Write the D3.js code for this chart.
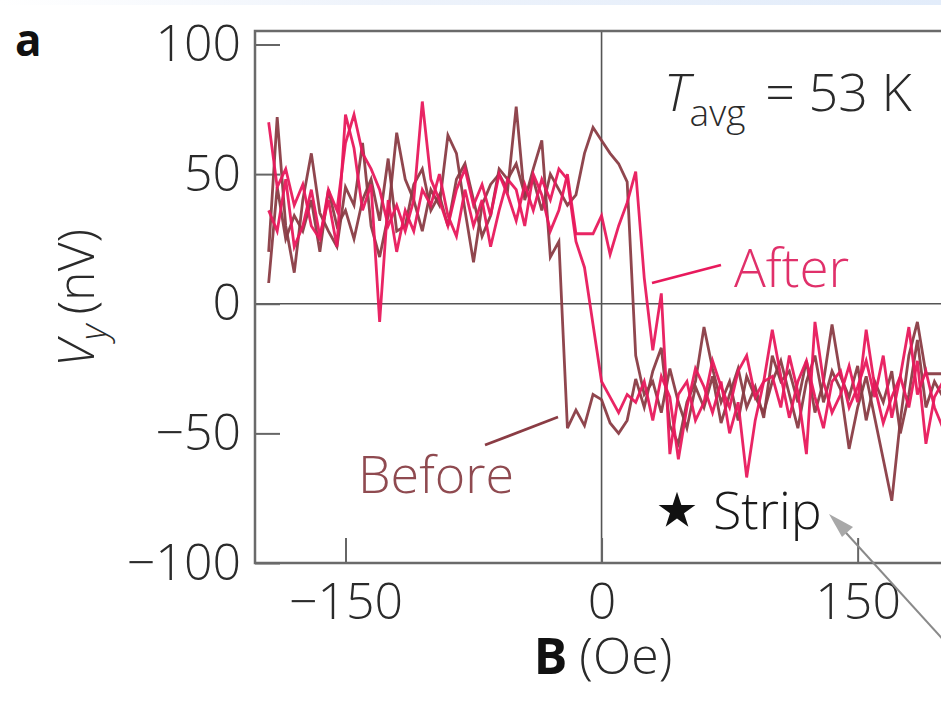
<!DOCTYPE html>
<html>
<head>
<meta charset="utf-8">
<script src="https://cdn.jsdelivr.net/npm/d3@7"></script>
<style>
	body { margin: 0; background: #fff; }
	svg { display: block; font-family: "Open Sans", "Noto Sans", sans-serif; font-weight: 300; }
</style>
</head>
<body>
<script>
// Field sweep (Oe) shared by all four traces
var fieldB = [-195, -190, -185, -180, -175, -170, -165, -160, -155, -150,
	-145, -140, -135, -130, -125, -120, -115, -110, -105, -100,
	-95, -90, -85, -80, -75, -70, -65, -60, -55, -50,
	-45, -40, -35, -30, -25, -20, -15, -10, -5, 0,
	5, 10, 15, 20, 25, 30, 35, 40, 45, 50,
	55, 60, 65, 70, 75, 80, 85, 90, 95, 100,
	105, 110, 115, 120, 125, 130, 135, 140, 145, 150,
	155, 160, 165, 170, 175, 180, 185, 190, 195, 200];

// V_y (nV), "Before" traces
var before1 = [20, 72, 30, 12, 40, 58, 35, 28, 22, 45,
	38, 62, 30, 18, 34, 66, 48, 40, 28, 44,
	38, 65, 58, 36, 16, 38, 46, 50, 44, 76,
	40, 52, 63, 18, 24, -48, -41, -47, -35, -37,
	-46, -50, -45, -29, -40, -26, -17, -47, -54, -38,
	-30, -9, -25, -38, -30, -45, -28, -36, -42, -30,
	-22, -35, -48, -30, -20, -38, -26, -33, -56, -40,
	-28, -44, -60, -76, -45, -20, -7, -27, -27, -27];

var before2 = [8, 45, 25, 34, 28, 40, 20, 44, 30, 36,
	25, 40, 48, 32, 56, 28, 30, 46, 52, 36,
	42, 30, 48, 54, 40, 26, 34, 52, 48, 54,
	42, 48, 36, 50, 44, 38, 42, 58, 68, 63,
	58, 54, 47, -20, -35, -30, -42, -25, -38, -48,
	-32, -40, -28, -46, -35, -25, -40, -32, -44, -20,
	-30, -26, -38, -22, -42, -30, -8, -28, -36, -24,
	-45, -30, -38, -26, -50, -35, -14, -40, -30, -36];

// V_y (nV), "After" traces
var after1 = [70, 45, 52, 38, 46, 30, 25, 44, 36, 62,
	73, 58, 52, 44, 30, 38, 28, 40, 78, 48,
	40, 30, 44, 52, 38, 46, 34, 50, 42, 32,
	46, 36, 48, 40, 52, 48, 24, 14, -8, -30,
	-36, -42, -35, -38, -30, -45, -28, -36, -60, -40,
	-25, -32, -42, -30, -50, -38, -67, -45, -30, -28,
	-40, -20, -34, -58, -7, -30, -42, -35, -24, -38,
	-10, -32, -46, -36, -28, -40, -22, -54, -36, -30];

var after2 = [36, 28, 48, 22, 30, 44, 26, 40, 22, 73,
	60, 36, 46, -7, 40, 20, 36, 28, 44, 38,
	50, 34, 26, 44, 30, 40, 22, 36, 48, 44,
	30, 50, 42, 28, 36, 50, 27, 27, 27, 34,
	19, 30, 39, 51, 10, -18, 4, -58, -35, -30,
	-45, -38, -22, -32, -40, -26, -20, -36, -30, -10,
	-28, -44, -30, -22, -36, -48, -30, -26, -40, -32,
	-22, -36, -20, -44, -28, -9, -35, -26, -40, -48];

var xTicks = [-150, 0, 150];
var yTicks = [-100, -50, 0, 50, 100];

var brown = "#8a3c44",
	pink = "#e8195c";

var width = 941,
	height = 702;

// plot box (right side runs off the page)
var plotLeft = 255, plotRight = 943, plotTop = 31, plotBottom = 563;

var svg = d3.select("body")
	.append("svg")
	.attr("width", width)
	.attr("height", height);

// faint blue band along the top edge of the scan
var grad = svg.append("defs").append("linearGradient")
	.attr("id", "band");
grad.append("stop").attr("offset", "0%").attr("stop-color", "#ffffff");
grad.append("stop").attr("offset", "40%").attr("stop-color", "#eef3fb");
grad.append("stop").attr("offset", "100%").attr("stop-color", "#e2ecfa");
svg.append("rect")
	.attr("x", 0).attr("y", 0)
	.attr("width", width).attr("height", 5)
	.attr("fill", "url(#band)");

var x = d3.scaleLinear().domain([-203, 200]).range([plotLeft, plotRight]);
var y = d3.scaleLinear().domain([-100, 105.2]).range([plotBottom, plotTop]);

svg.append("clipPath").attr("id", "plot")
	.append("rect")
	.attr("x", plotLeft).attr("y", plotTop)
	.attr("width", plotRight - plotLeft).attr("height", plotBottom - plotTop);

// zero lines
svg.append("line")
	.attr("x1", x(0)).attr("x2", x(0))
	.attr("y1", plotTop).attr("y2", plotBottom)
	.attr("stroke", "#555").attr("stroke-width", 1.6);
svg.append("line")
	.attr("x1", plotLeft).attr("x2", width)
	.attr("y1", y(0)).attr("y2", y(0))
	.attr("stroke", "#555").attr("stroke-width", 1.6);

// axes, ticks pointing inwards
var yAxis = svg.append("g")
	.attr("transform", "translate(" + plotLeft + ",0)")
	.call(d3.axisLeft(y).tickValues(yTicks).tickSize(-25).tickPadding(14));
var xAxis = svg.append("g")
	.attr("transform", "translate(0," + plotBottom + ")")
	.call(d3.axisBottom(x).tickValues(xTicks).tickSize(-25).tickPadding(20));

[xAxis, yAxis].forEach(function(g) {
	g.select(".domain").remove();
	g.selectAll(".tick line").attr("stroke", "#666").attr("stroke-width", 2);
	g.selectAll(".tick text")
		.attr("fill", "#2a2a2a")
		.style("font-family", "'Open Sans', sans-serif")
		.style("font-weight", "300")
		.style("font-size", "50px");
});

// frame: left, bottom and top
svg.append("path")
	.attr("d", "M" + width + "," + plotTop + "H" + plotLeft + "V" + plotBottom + "H" + width)
	.attr("fill", "none")
	.attr("stroke", "#6a6a6a")
	.attr("stroke-width", 2.5);

var line = d3.line()
	.x(function(d, i) { return x(fieldB[i]); })
	.y(function(d) { return y(d); });

var traces = [
	{ values: before1, color: brown },
	{ values: before2, color: brown },
	{ values: after1, color: pink },
	{ values: after2, color: pink }
];

svg.append("g")
	.attr("clip-path", "url(#plot)")
	.selectAll("path")
	.data(traces)
	.enter()
	.append("path")
	.attr("d", function(d) { return line(d.values); })
	.attr("fill", "none")
	.attr("stroke", function(d) { return d.color; })
	.attr("stroke-width", 2.8)
	.attr("stroke-linejoin", "miter")
	.attr("stroke-opacity", 0.95);

// labels for the traces
svg.append("line")
	.attr("x1", 652).attr("y1", 283).attr("x2", 721).attr("y2", 265)
	.attr("stroke", pink).attr("stroke-width", 2.8);
svg.append("text")
	.attr("x", 734).attr("y", 287)
	.attr("fill", "#e0306a")
	.style("font-size", "53px")
	.text("After");

svg.append("line")
	.attr("x1", 485).attr("y1", 445).attr("x2", 558).attr("y2", 417)
	.attr("stroke", brown).attr("stroke-width", 2.8);
svg.append("text")
	.attr("x", 358).attr("y", 493)
	.attr("fill", "#8f4a50")
	.style("font-size", "52px")
	.text("Before");

// T_avg annotation
var tl = svg.append("text")
	.attr("x", 664).attr("y", 111)
	.attr("fill", "#2a2a2a")
	.style("font-size", "52px");
tl.append("tspan").style("font-style", "italic").text("T");
tl.append("tspan").attr("dy", 15).style("font-size", "37px").text("avg");
tl.append("tspan").attr("dy", -15).attr("dx", 20).text("= 53 K");

// strip marker and arrow
svg.append("path")
	.attr("d", d3.symbol().type(d3.symbolStar).size(420)())
	.attr("transform", "translate(677,511)")
	.attr("fill", "#111");
svg.append("text")
	.attr("x", 713).attr("y", 529)
	.attr("fill", "#1a1a1a")
	.style("font-size", "52px")
	.text("Strip");

svg.append("line")
	.attr("x1", 948).attr("y1", 645).attr("x2", 838).attr("y2", 524)
	.attr("stroke", "#8a8a8a").attr("stroke-width", 2);
svg.append("path")
	.attr("d", "M829,514 L853,527 L842,537 Z")
	.attr("fill", "#a8a8a8");

// axis titles
svg.append("text")
	.attr("x", 15).attr("y", 56)
	.attr("fill", "#111")
	.style("font-size", "44px")
	.style("font-weight", "bold")
	.text("a");

var yl = svg.append("text")
	.attr("transform", "translate(94,298) rotate(-90)")
	.attr("text-anchor", "middle")
	.attr("fill", "#2a2a2a")
	.style("font-size", "50px");
yl.append("tspan").style("font-style", "italic").text("V");
yl.append("tspan").attr("dy", 12).style("font-size", "36px").style("font-style", "italic").text("y");
yl.append("tspan").attr("dy", -12).attr("dx", 10).text("(nV)");

var xl = svg.append("text")
	.attr("x", 603).attr("y", 674)
	.attr("text-anchor", "middle")
	.attr("fill", "#2a2a2a")
	.style("font-size", "50px");
xl.append("tspan").style("font-weight", "bold").attr("fill", "#111").text("B");
xl.append("tspan").attr("dx", 12).text("(Oe)");
</script>
</body>
</html>
